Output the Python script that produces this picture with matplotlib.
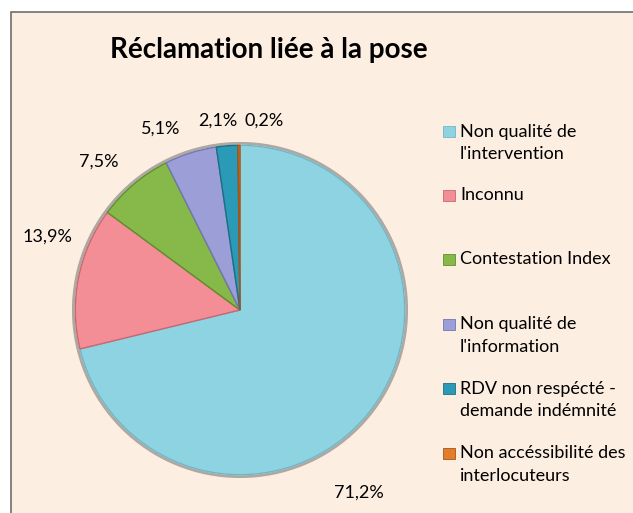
import matplotlib
matplotlib.use("Agg")
import matplotlib.pyplot as plt
from matplotlib.patches import Rectangle, Circle

# Data
categories = ["Non qualité de\nl'intervention", "Inconnu", "Contestation Index",
              "Non qualité de\nl'information", "RDV non respécté -\ndemande indémnité",
              "Non accéssibilité des\ninterlocuteurs"]
values = [71.2, 13.9, 7.5, 5.1, 2.1, 0.2]
value_labels = ["71,2%", "13,9%", "7,5%", "5,1%", "2,1%", "0,2%"]
colors = ["#8ED3E2", "#F38D96", "#86B94A", "#9C9ED8", "#2A9AB6", "#E27D2C"]
edge_colors = ["#6FB6C6", "#C86870", "#5E8E2C", "#7476B0", "#1B6F85", "#A85515"]

plt.rcParams['font.family'] = ['Lato', 'DejaVu Sans']

W, H = 633, 513
fig = plt.figure(figsize=(W / 100, H / 100), dpi=100)
fig.patch.set_facecolor("white")

# chart area background with border (behind the axes)
bg = Rectangle((11 / W, -0.01), 1, 1.01 - 12 / H, transform=fig.transFigure,
               facecolor="#FDEEE2", edgecolor="#6E6E6E", linewidth=1.2, zorder=-5)
fig.patches.append(bg)

fig.text(269 / W, 1 - 50 / H, "Réclamation liée à la pose", ha="center", va="center",
         fontsize=20, fontweight="bold", color="black")

# pie axes: center (240, 310), radius 168 px
r = 168
cx, cy = 240, 310
ax = fig.add_axes([(cx - r) / W, 1 - (cy + r) / H, 2 * r / W, 2 * r / H])
ax.set_facecolor("none")
# soft outer shadow
ax.add_patch(Circle((0, 0), 1.012, facecolor="none", edgecolor="#7A7A7A",
                    linewidth=2.0, alpha=0.6, zorder=0))
wedges, _ = ax.pie(values, colors=colors, startangle=90, counterclock=False,
                   radius=1.0, wedgeprops=dict(linewidth=1.0))
for w, ec in zip(wedges, edge_colors):
    w.set_edgecolor(ec)
ax.set_xlim(-1.02, 1.02)
ax.set_ylim(-1.02, 1.02)
ax.set_aspect("equal")
ax.axis("off")

# value labels placed outside the pie
label_pos = [(359, 493), (47, 237), (99, 162), (161, 129), (218, 121), (264, 121)]
for txt, (x, y) in zip(value_labels, label_pos):
    fig.text(x / W, 1 - y / H, txt, ha="center", va="center", fontsize=13, color="black")

# legend (y = centre of the text block)
leg_y = [143, 195, 259, 335.5, 400, 464.5]
for name, col, ec, y in zip(categories, colors, edge_colors, leg_y):
    n = len(name.split("\n"))
    y0 = y - (n - 1) * 12
    fig.patches.append(Rectangle((443 / W, 1 - (y0 + 6) / H), 12 / W, 11 / H,
                                 transform=fig.transFigure, facecolor=col,
                                 edgecolor=ec, linewidth=0.6))
    fig.text(460 / W, 1 - y / H, name, ha="left", va="center", fontsize=13,
             color="black", linespacing=1.5)

fig.savefig("out.png", dpi=100, facecolor=fig.get_facecolor())
